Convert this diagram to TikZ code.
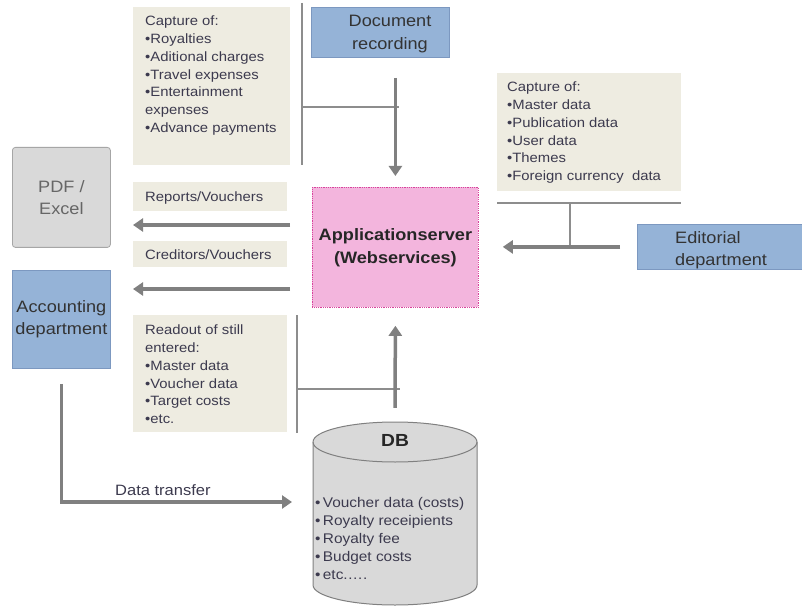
\documentclass[tikz,border=0pt]{standalone}
\usepackage{fontspec}
\setmainfont{Liberation Sans}[FakeStretch=1.1]
\usetikzlibrary{arrows.meta,positioning}
\definecolor{boxtan}{HTML}{EEECE1}
\definecolor{deptblue}{HTML}{95B3D7}
\definecolor{deptline}{HTML}{7C98C0}
\definecolor{serverpink}{HTML}{F3B5DD}
\definecolor{serverline}{HTML}{D8449C}
\definecolor{filegray}{HTML}{D9D9D9}
\definecolor{flowgray}{HTML}{808080}
\definecolor{inkgray}{HTML}{3C3A4E}
\begin{document}
\begin{tikzpicture}[x=1pt,y=-1pt,
  tanbox/.style={fill=boxtan, inner sep=0pt, anchor=north west},
  tantext/.style={anchor=north west, inner sep=0pt, align=left, text=inkgray, font=\fontsize{13.5}{17.7}\selectfont},
  dept/.style={fill=deptblue, draw=deptline, line width=0.8pt, inner sep=0pt, anchor=north west},
  depttext/.style={inner sep=0pt, align=center, text=black!80, font=\fontsize{16.5}{22.5}\selectfont},
  flow/.style={draw=flowgray, line width=3.5pt, -{Triangle[length=10pt,width=13pt]}},
  callout/.style={draw=flowgray!90, line width=1.2pt}]
  \useasboundingbox[fill=white] (0,0) rectangle (802,609);

  % text boxes
  \node[tanbox, minimum width=157, minimum height=158] (capdoc) at (133,7) {};
  \node[tantext] at (145,16) {Capture of:\\•Royalties\\•Aditional charges\\•Travel expenses\\•Entertainment\\expenses\\•Advance payments};
  \node[tanbox, minimum width=184, minimum height=118] (capedit) at (497,73) {};
  \node[tantext] at (507,82) {Capture of:\\•Master data\\•Publication data\\•User data\\•Themes\\•Foreign currency\ \ data};
  \node[tanbox, minimum width=154, minimum height=29] (reports) at (133,182) {};
  \node[tantext] at (145,192) {Reports/Vouchers};
  \node[tanbox, minimum width=154, minimum height=26] (creditors) at (133,241) {};
  \node[tantext] at (145,250) {Creditors/Vouchers};
  \node[tanbox, minimum width=154, minimum height=117] (readout) at (133,315) {};
  \node[tantext] at (145,325) {Readout of still\\entered:\\•Master data\\•Voucher data\\•Target costs\\•etc.};

  % departments and server
  \node[dept, minimum width=138, minimum height=50] (docrec) at (311,7) {};
  \node[depttext, anchor=north] at (390,15) {Document\\recording};
  \node[dept, minimum width=168, minimum height=45] (editorial) at (637,224) {};
  \node[depttext, anchor=north west, align=left] at (675,231) {Editorial\\department};
  \node[dept, depttext, anchor=north west, minimum width=98, minimum height=98] (acct) at (12,270) {Accounting\\department};
  \node[fill=filegray, draw=flowgray!70, line width=0.8pt, rounded corners=3pt, anchor=north west,
    minimum width=98, minimum height=100, depttext, text=black!60] (pdf) at (12,147) {PDF /\\Excel};
  \node[fill=serverpink, draw=serverline, densely dotted, line width=0.8pt, anchor=north west,
    minimum width=166, minimum height=120, depttext, text=black!85, font=\bfseries\fontsize{16.5}{23}\selectfont] (server) at (312,187) {Applicationserver\\(Webservices)};

  % database
  \draw[draw=flowgray, fill=filegray, line width=1pt] (313,442) -- (313,585)
    arc[start angle=180, end angle=0, x radius=82, y radius=20] -- (477,442)
    arc[start angle=0, end angle=-180, x radius=82, y radius=20] -- cycle;
  \draw[draw=flowgray, line width=1pt] (313,442) arc[start angle=180, end angle=0, x radius=82, y radius=20];
  \node[minimum width=164, minimum height=183, inner sep=0pt] (db) at (395,513.5) {};
  \node[inner sep=0pt, text=black!85, font=\bfseries\fontsize{17.5}{20}\selectfont] at (395,440) {DB};
  \node[tantext, font=\fontsize{14}{18}\selectfont] at (315,497) {•\,Voucher data (costs)\\•\,Royalty receipients\\•\,Royalty fee\\•\,Budget costs\\•\,etc.….};

  % callout lines
  \draw[callout] (302,3) -- (302,165);
  \draw[callout] (302,107) -- (399,107);
  \draw[callout] (297,315) -- (297,433);
  \draw[callout] (297,389) -- (400,389);
  \draw[callout] (497,203) -- (681,203);
  \draw[callout] (570,203) -- (570,246);

  % flows
  \coordinate (pdfin) at (133,225);
  \coordinate (acctin) at (133,289);
  \coordinate (dtend) at (292,502);
  \draw[flow] ([yshift=-20pt]docrec.south -| server.north) -- ([yshift=11pt]server.north);
  \draw[flow] ([xshift=-22pt]server.west |- pdfin) -- (pdfin);
  \draw[flow] ([xshift=-22pt]server.west |- acctin) -- (acctin);
  \draw[flow] ([xshift=-17pt]editorial.west) -- ([xshift=24pt]server.east |- editorial.west);
  \draw[flow] ([yshift=14pt]db.north) -- ([yshift=-18pt]server.south);
  \draw[flow] ([yshift=-15pt]acct.south) |- (dtend)
    node[pos=0.72, above=5pt, inner sep=0pt, text=inkgray, font=\fontsize{15}{18}\selectfont] {Data transfer};
\end{tikzpicture}
\end{document}
